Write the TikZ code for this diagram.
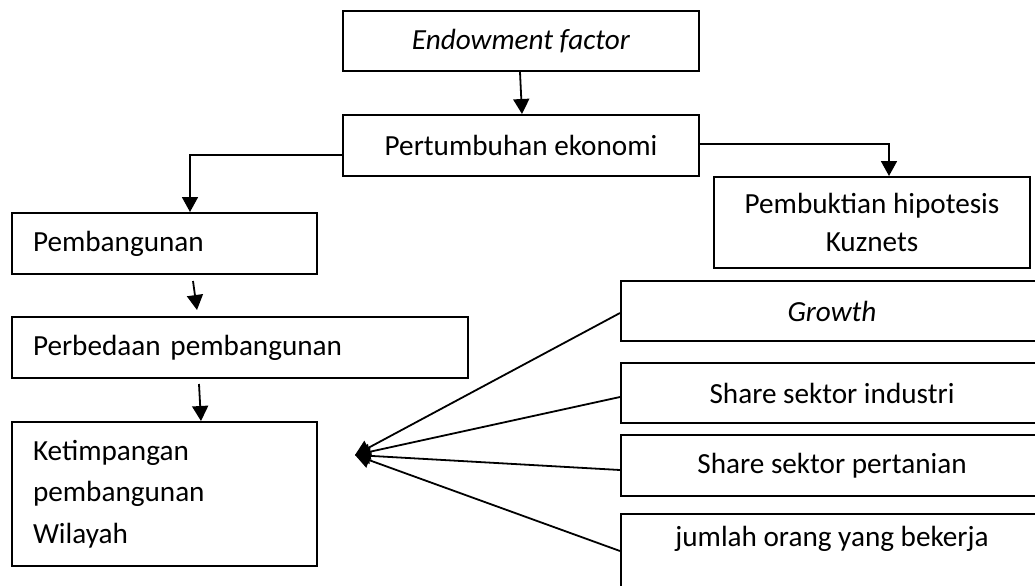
\documentclass[tikz,border=0pt]{standalone}
\usepackage{fontspec}
\setmainfont{Carlito}
\usetikzlibrary{arrows.meta,positioning,calc}

\begin{document}
\begin{tikzpicture}[x=0.5pt, y=-0.5pt, ->, >={Triangle[length=7.5pt,width=8pt]}, line width=0.9pt, font=\fontsize{14.6}{19.25}\selectfont]
    \tikzstyle{box}=[draw=black, line width=1pt, fill=white, inner sep=0pt, align=center]
    \tikzstyle{leftbox}=[box, inner xsep=10.5pt, align=left]
    \useasboundingbox (0,0) rectangle (1035,585);

    \node[box, minimum width=178pt, minimum height=30pt]     (endow)     at (521,41)     {\textit{Endowment factor}};
    \node[box, minimum width=178pt, minimum height=30.5pt]   (tumbuh)    at (521,145.5)  {Pertumbuhan ekonomi};
    \node[box, minimum width=158pt, minimum height=45.5pt]   (kuz)       at (872,222.5)  {Pembuktian hipotesis\\Kuznets};

    \node[leftbox, text width=131.5pt, minimum height=30.5pt] (bangun)   at (164.5,243.5) {Pembangunan};
    \node[leftbox, text width=207pt, minimum height=30.5pt]   (beda)     at (240,347.5)   {Perbedaan pembangunan};
    \node[leftbox, text width=131.5pt, minimum height=72pt, font=\fontsize{14.6}{20.75}\selectfont] (timpang) at (164.5,494) {Ketimpangan\\pembangunan\\Wilayah};

    \node[box, minimum width=211pt, minimum height=30pt]     (growth)    at (832,311)    {\textit{Growth}};
    \node[box, minimum width=211pt, minimum height=30pt]     (industri)  at (832,393)    {Share sektor industri};
    \node[box, minimum width=211pt, minimum height=30.5pt]   (pertanian) at (832,465.5)  {Share sektor pertanian};
    \node[box, minimum width=211pt, text height=16pt, text depth=30pt, anchor=north] (jumlah) at (832,513) {jumlah orang yang bekerja};

    \coordinate (conv) at (355,455);

    \draw ([xshift=-0.5pt]endow.south) -- ([xshift=0.5pt]tumbuh.north);
    \draw ([yshift=-4.75pt]tumbuh.west) -| ([xshift=12.75pt]bangun.north);
    \draw ([yshift=0.75pt]tumbuh.east) -| ([xshift=8.5pt]kuz.north);
    \draw ($(bangun.south)+(14.25pt,-3pt)$) -- ($(beda.north)+(-21.5pt,3pt)$);
    \draw ($(beda.south)+(-20.5pt,-2.5pt)$) -- ([xshift=18.25pt]timpang.north);

    \foreach \src/\dy in {growth/-1pt, industri/-2pt, pertanian/-2.25pt, jumlah/4.5pt}
        \draw ([yshift=\dy]\src.west) -- (conv);
\end{tikzpicture}
\end{document}
